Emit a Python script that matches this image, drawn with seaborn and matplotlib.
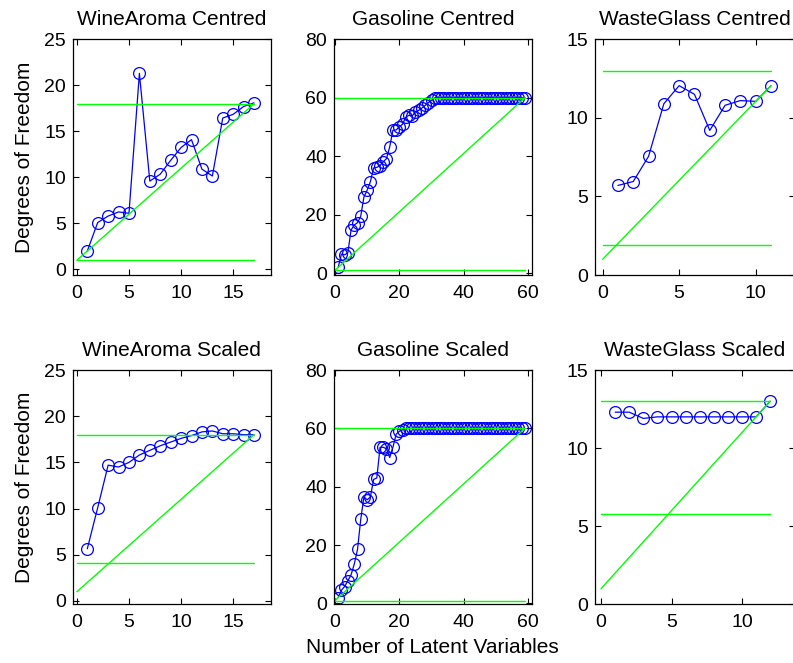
import matplotlib
matplotlib.use("Agg")
import matplotlib.pyplot as plt
import seaborn as sns

# ---- data ----
titles = ["WineAroma Centred", "Gasoline Centred", "WasteGlass Centred",
          "WineAroma Scaled", "Gasoline Scaled", "WasteGlass Scaled"]

wine_c = [2.0, 5.1, 5.8, 6.25, 6.1, 21.3, 9.6, 10.35, 11.85, 13.25, 14.1,
          10.9, 10.15, 16.45, 16.85, 17.7, 18.1]
gas_c = [2.0, 6.5, 6.3, 7.0, 14.8, 16.5, 17.3, 19.5, 26.1, 28.4, 31.3, 36.0,
         36.2, 36.8, 38.1, 39.2, 43.2, 48.9, 49.0, 50.0, 51.0, 53.4, 54.0,
         53.8, 55.2, 55.7, 56.5, 57.4, 58.3, 59.1, 60.0, 60.0, 60.0, 60.0,
         60.0, 60.0, 60.0, 60.0, 60.0, 60.0, 60.0, 60.0, 60.0, 60.0, 60.0,
         60.0, 60.0, 60.0, 60.0, 60.0, 60.0, 60.0, 60.0, 60.0, 60.0, 60.0,
         60.0, 60.0, 60.0]
glass_c = [5.7, 5.95, 7.55, 10.9, 12.05, 11.5, 9.2, 10.8, 11.1, 11.05, 12.05]
wine_s = [5.65, 10.1, 14.7, 14.5, 15.0, 15.8, 16.3, 16.8, 17.2, 17.6, 17.9,
          18.3, 18.4, 18.1, 18.1, 18.0, 18.0]
gas_s = [2.0, 4.5, 5.8, 7.8, 9.8, 13.5, 18.5, 28.8, 36.5, 35.5, 36.5, 42.5,
         43.0, 53.5, 53.5, 53.0, 50.0, 53.5, 58.0, 59.0, 59.5, 60.0, 60.0,
         60.0, 60.0, 60.0, 60.0, 60.0, 60.0, 60.0, 60.0, 60.0, 60.0, 60.0,
         60.0, 60.0, 60.0, 60.0, 60.0, 60.0, 60.0, 60.0, 60.0, 60.0, 60.0,
         60.0, 60.0, 60.0, 60.0, 60.0, 60.0, 60.0, 60.0, 60.0, 60.0, 60.0,
         60.0, 60.0, 60.0]
glass_s = [12.3, 12.3, 11.9, 12.0, 12.0, 12.0, 12.0, 12.0, 12.0, 12.0, 12.0, 13.0]

series = [wine_c, gas_c, glass_c, wine_s, gas_s, glass_s]
upper_ref = [18.0, 60.0, 13.0, 18.0, 60.0, 13.0]
lower_ref = [1.0, 1.0, 1.9, 4.1, 0.9, 5.75]
diag_start = [1.0, 1.0, 1.0, 1.0, 1.0, 1.0]
diag_end = [18.0, 60.0, 12.05, 18.0, 60.0, 13.0]

xticks = [[0, 5, 10, 15], [0, 20, 40, 60], [0, 5, 10],
          [0, 5, 10, 15], [0, 20, 40, 60], [0, 5, 10]]
yticks = [[0, 5, 10, 15, 20, 25], [0, 20, 40, 60, 80], [0, 5, 10, 15],
          [0, 5, 10, 15, 20, 25], [0, 20, 40, 60, 80], [0, 5, 10, 15]]
xlims = [(-0.4, 18.6), (-0.3, 61.1), (-0.5, 12.57),
         (-0.4, 18.6), (-0.3, 61.1), (-0.43, 13.76)]
ylims = [(-0.6, 25), (-0.6, 80), (0, 15),
         (-0.36, 25), (-0.3, 80), (0, 15)]

# ---- style ----
sns.set_theme(style="white")
plt.rcParams["font.family"] = ["Liberation Sans", "DejaVu Sans"]
plt.rcParams["axes.edgecolor"] = "black"
plt.rcParams["axes.linewidth"] = 0.9
plt.rcParams["text.color"] = "black"
plt.rcParams["axes.labelcolor"] = "black"

W, H = 793, 663
fig = plt.figure(figsize=(W / 100, H / 100), dpi=100)
fig.patch.set_facecolor("white")

cols = [(72.7, 270.7), (334.0, 531.7), (595.0, 795.0)]
rows = [(39.3, 275.0), (370.0, 604.3)]

FS = 15
TFS = 14
green = (0, 1, 0)
blue = (0, 0, 1)
for i in range(6):
    r, c = divmod(i, 3)
    x0, x1 = cols[c]
    y0, y1 = rows[r]
    ax = fig.add_axes([x0 / W, 1 - y1 / H, (x1 - x0) / W, (y1 - y0) / H])
    vals = series[i]
    n = len(vals)
    xs = list(range(1, n + 1))
    sns.lineplot(x=xs, y=vals, ax=ax, color=blue, lw=0.9,
                 marker="o", markersize=8.5, markerfacecolor="none",
                 markeredgecolor=blue, markeredgewidth=0.9,
                 estimator=None, sort=False)
    sns.lineplot(x=[0, n], y=[upper_ref[i], upper_ref[i]], ax=ax,
                 color=green, lw=1.0, estimator=None)
    sns.lineplot(x=[0, n], y=[lower_ref[i], lower_ref[i]], ax=ax,
                 color=green, lw=1.0, estimator=None)
    sns.lineplot(x=[0, n], y=[diag_start[i], diag_end[i]],
                 ax=ax, color=green, lw=1.0, estimator=None)
    ax.set_xlim(*xlims[i])
    ax.set_ylim(*ylims[i])
    ax.set_xticks(xticks[i])
    ax.set_yticks(yticks[i])
    ax.tick_params(direction="in", top=True, right=True, bottom=True, left=True,
                   length=4, width=0.8, labelsize=TFS, colors="black")
    ax.tick_params(axis="x", pad=7)
    ax.tick_params(axis="y", pad=5)
    ax.set_title(titles[i], fontsize=FS, pad=10, color="black")
    for s in ax.spines.values():
        s.set_visible(True)
        s.set_color("black")
    ax.set_xlabel("")
    ax.set_ylabel("")
    if c == 0:
        ax.set_ylabel("Degrees of Freedom", fontsize=FS, labelpad=7)
    if r == 1 and c == 1:
        ax.set_xlabel("Number of Latent Variables", fontsize=FS, labelpad=5)

fig.savefig("out.png", dpi=100, facecolor="white")
